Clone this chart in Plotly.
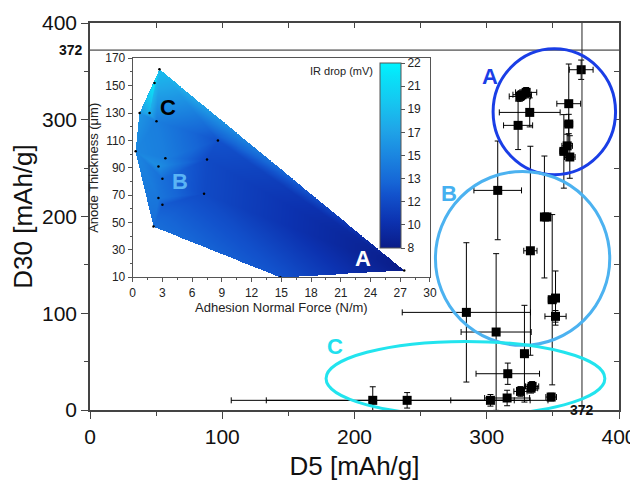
import numpy as np
import plotly.graph_objects as go

# ---------------- main chart data ----------------
D5 = [371.4, 325.0, 326.8, 329.8, 332.5, 323.7, 362.0, 362.0, 358.3, 360.8, 362.8,
      308.3, 343.6, 345.5, 333.0, 349.5, 352.0, 352.0, 284.6, 307.1, 328.5,
      315.9, 334.3, 333.5, 325.5, 348.7, 315.4, 302.8, 239.8, 213.8]
D5_ERR = [9, 8, 7, 8, 23, 11, 9, 3, 3, 4, 4,
          18, 2, 2, 5, 3, 3, 8, 48.5, 26.5, 3,
          24, 5, 5, 5, 4, 17, 30, 106.5, 107]
D30 = [351.7, 324.1, 325.9, 328.3, 307.6, 294.2, 316.6, 295.6, 267.3, 273.0, 261.5,
       227.0, 199.5, 199.5, 164.6, 114.0, 115.7, 96.8, 100.9, 80.6, 58.2,
       37.5, 24.4, 22.5, 19.2, 13.4, 12.4, 10.0, 10.0, 10.0]
D30_ERR = [10, 5, 5, 5, 15, 25, 41, 10, 38, 12, 22,
           51, 63, 0, 108, 88, 28, 6, 72, 81, 50,
           11, 5, 5, 5, 4, 8, 6, 8, 14]
REF_VALUE = 372

# ---------------- inset data ----------------
INSET_FORCE = [2.7, 2.2, 0.7, 1.7, 2.4, 8.6, 0.3, 3.3, 7.5, 2.6, 3.0, 7.2, 2.6, 3.0, 2.1, 14.9, 27.4]
INSET_THICK = [162, 152, 130, 130, 124, 110, 102, 97, 96, 91, 82, 71, 68, 63, 47, 10, 15]
INSET_IR = [18.5, 21.5, 16.0, 17.5, 14.5, 12.0, 15.0, 14.5, 11.5, 15.5, 13.5, 11.5, 14.0, 12.5, 13.5, 12.0, 8.0]
# triangulation (indices into the inset arrays)
TRIS = [(0, 1, 3), (0, 2, 1), (1, 2, 3), (0, 3, 4), (0, 4, 5), (0, 5, 16), (2, 3, 4), (2, 4, 6),
        (4, 6, 7), (4, 7, 5), (7, 8, 5), (6, 9, 7), (9, 7, 8), (9, 10, 8), (6, 9, 10), (6, 10, 12),
        (10, 11, 8), (10, 12, 11), (12, 13, 11), (6, 12, 14), (12, 13, 14), (13, 14, 11),
        (14, 15, 11), (11, 15, 16), (11, 16, 8), (8, 16, 5)]
CB_TICKVALS = [8, 9.75, 11.5, 13.25, 15, 16.75, 18.5, 20.25, 22]
CB_TICKTEXT = ["8", "10", "12", "13", "15", "17", "19", "21", "22"]

FONT = "Arial, Liberation Sans, sans-serif"

# interpolate IR drop on a grid by linear barycentric interpolation
fx = np.array(INSET_FORCE, float)
fy = np.array(INSET_THICK, float)
fz = np.array(INSET_IR, float)
gx = np.linspace(0, 28, 561)
gy = np.linspace(9, 165, 625)
GX, GY = np.meshgrid(gx, gy)
Z = np.full(GX.shape, np.nan)
eps = 1e-9
for a, b, c in TRIS:
    x1, y1, z1 = fx[a], fy[a], fz[a]
    x2, y2, z2 = fx[b], fy[b], fz[b]
    x3, y3, z3 = fx[c], fy[c], fz[c]
    det = (y2 - y3) * (x1 - x3) + (x3 - x2) * (y1 - y3)
    l1 = ((y2 - y3) * (GX - x3) + (x3 - x2) * (GY - y3)) / det
    l2 = ((y3 - y1) * (GX - x3) + (x1 - x3) * (GY - y3)) / det
    l3 = 1 - l1 - l2
    inside = (l1 >= -eps) & (l2 >= -eps) & (l3 >= -eps)
    Z[inside] = (l1 * z1 + l2 * z2 + l3 * z3)[inside]

colorscale = [[0, '#0a1c88'], [0.143, '#0c32b0'], [0.286, '#1252cc'], [0.357, '#1666d6'],
              [0.5, '#1b86e0'], [0.643, '#1fa6e8'], [0.786, '#16c6f0'], [0.929, '#08e2f8'],
              [1, '#00f4ff']]

fig = go.Figure()

fig.add_trace(go.Scatter(
    x=D5, y=D30, mode='markers',
    marker=dict(symbol='square', size=9, color='black'),
    error_x=dict(type='data', array=D5_ERR, color='black', thickness=1, width=3),
    error_y=dict(type='data', array=D30_ERR, color='black', thickness=1, width=3),
    showlegend=False, xaxis='x', yaxis='y'))

fig.add_trace(go.Heatmap(
    x=gx, y=gy, z=Z, zmin=8, zmax=22, colorscale=colorscale, zsmooth=False,
    xaxis='x2', yaxis='y2', hoverinfo='skip',
    colorbar=dict(x=0.548, xanchor='left', y=0.8966, yanchor='top', len=0.478, lenmode='fraction',
                  thickness=21, xpad=0, ypad=0, outlinewidth=1, outlinecolor='#555',
                  tickvals=CB_TICKVALS, ticktext=CB_TICKTEXT, ticks='outside', ticklen=4,
                  tickcolor='#555', tickfont=dict(size=12, family=FONT, color='#222'))))

fig.add_trace(go.Scatter(
    x=INSET_FORCE, y=INSET_THICK, mode='markers',
    marker=dict(size=2.5, color='black'), xaxis='x2', yaxis='y2',
    showlegend=False, hoverinfo='skip'))

axis_common = dict(showgrid=False, zeroline=False, linecolor='#444', linewidth=1.5, automargin=False,
                   tickcolor='#444', tickfont=dict(size=21, family=FONT, color='#111'))

# page body has an 8px margin: figure is 630x473 placed at (8, 8)
fig.update_layout(
    width=630, height=473,
    margin=dict(l=82, r=19, t=15, b=71, autoexpand=False),
    paper_bgcolor='white', plot_bgcolor='white',
    font=dict(family=FONT),
    xaxis=dict(range=[0, 400], dtick=100, ticks='outside', ticklen=7, showline=True,
               minor=dict(dtick=50, ticks='outside', ticklen=4, tickcolor='#444'),
               title=dict(text='D5 [mAh/g]', font=dict(size=26, family=FONT, color='#111'), standoff=14),
               **axis_common),
    yaxis=dict(range=[0, 400], dtick=100, ticks='outside', ticklen=7, showline=True,
               minor=dict(dtick=50, ticks='outside', ticklen=4, tickcolor='#444'),
               title=dict(text='D30 [mAh/g]', font=dict(size=26, family=FONT, color='#111'), standoff=10),
               **axis_common),
    xaxis3=dict(range=[0, 400], overlaying='x', side='top', anchor='y', dtick=50, ticks='inside',
                ticklen=5, showticklabels=False, showline=True, linecolor='#444', linewidth=1.5,
                tickcolor='#444', showgrid=False, zeroline=False, automargin=False),
    yaxis3=dict(range=[0, 400], overlaying='y', side='right', anchor='x', dtick=50, ticks='inside',
                ticklen=5, showticklabels=False, showline=True, linecolor='#444', linewidth=1.5,
                tickcolor='#444', showgrid=False, zeroline=False, automargin=False),
    xaxis2=dict(domain=[0.0807, 0.6427], anchor='y2', range=[0, 30], dtick=3, ticks='outside',
                ticklen=4, showline=True, mirror=True, linecolor='#555', linewidth=1,
                tickcolor='#555', showgrid=False, zeroline=False, automargin=False,
                minor=dict(dtick=1.5, ticks='outside', ticklen=2, tickcolor='#555'),
                tickfont=dict(size=12, family=FONT, color='#222'),
                title=dict(text='Adhesion Normal Force (N/m)', font=dict(size=13, family=FONT, color='#222'),
                           standoff=4)),
    yaxis2=dict(domain=[0.343, 0.9088], anchor='x2', range=[10, 170], tick0=10, dtick=20,
                ticks='outside', ticklen=4, showline=True, mirror=True, linecolor='#555', linewidth=1,
                tickcolor='#555', showgrid=False, zeroline=False, automargin=False,
                minor=dict(dtick=10, ticks='outside', ticklen=2, tickcolor='#555'),
                tickfont=dict(size=12, family=FONT, color='#222'),
                title=dict(text='Anode Thickness (μm)', font=dict(size=13, family=FONT, color='#222'),
                           standoff=3)),
)
# dummy traces so the mirror axes render
fig.add_trace(go.Scatter(x=[None], y=[None], xaxis='x3', yaxis='y', showlegend=False))
fig.add_trace(go.Scatter(x=[None], y=[None], xaxis='x', yaxis='y3', showlegend=False))

# reference lines
fig.add_shape(type='line', xref='x', yref='y', x0=REF_VALUE, x1=REF_VALUE, y0=0, y1=400,
              line=dict(color='#222', width=1))
fig.add_shape(type='line', xref='x', yref='y', x0=0, x1=400, y0=REF_VALUE, y1=REF_VALUE,
              line=dict(color='#222', width=1))

# ellipses
fig.add_shape(type='circle', xref='x', yref='y', x0=304.8, x1=397.4, y0=243.2, y1=373.4,
              line=dict(color='#1a3ee6', width=3))
fig.add_shape(type='circle', xref='x', yref='y', x0=261.2, x1=393.0, y0=66.8, y1=246.6,
              line=dict(color='#4cb2f0', width=3))
fig.add_shape(type='circle', xref='x', yref='y', x0=178.5, x1=389.3, y0=-5.9, y1=70.9,
              line=dict(color='#22e4ee', width=3))

ann = [
    dict(text='<b>A</b>', x=302.3, y=344.2, xref='x', yref='y', font=dict(size=22, color='#1a3ee6')),
    dict(text='<b>B</b>', x=271.8, y=223.6, xref='x', yref='y', font=dict(size=22, color='#45b0f0')),
    dict(text='<b>C</b>', x=185.6, y=65.4, xref='x', yref='y', font=dict(size=22, color='#20e0ee')),
    dict(text='<b>C</b>', x=3.6, y=134, xref='x2', yref='y2', font=dict(size=22, color='black')),
    dict(text='<b>B</b>', x=4.8, y=80, xref='x2', yref='y2', font=dict(size=22, color='#5ab4f5')),
    dict(text='<b>A</b>', x=23.2, y=24, xref='x2', yref='y2', font=dict(size=22, color='white')),
    dict(text='IR drop (mV)', x=24.5, y=160.5, xref='x2', yref='y2', xanchor='right',
         font=dict(size=11, color='#222')),
    dict(text='<b>%d</b>' % REF_VALUE, x=-0.036, y=REF_VALUE, xref='paper', yref='y', xanchor='center',
         font=dict(size=14, color='#111')),
    dict(text='<b>%d</b>' % REF_VALUE, x=REF_VALUE, y=-0.026, xref='x', yref='paper',
         font=dict(size=14, color='#111')),
]
for a in ann:
    a.setdefault('showarrow', False)
    a['font']['family'] = FONT
    fig.add_annotation(**a)

fig.write_html("out.html")
